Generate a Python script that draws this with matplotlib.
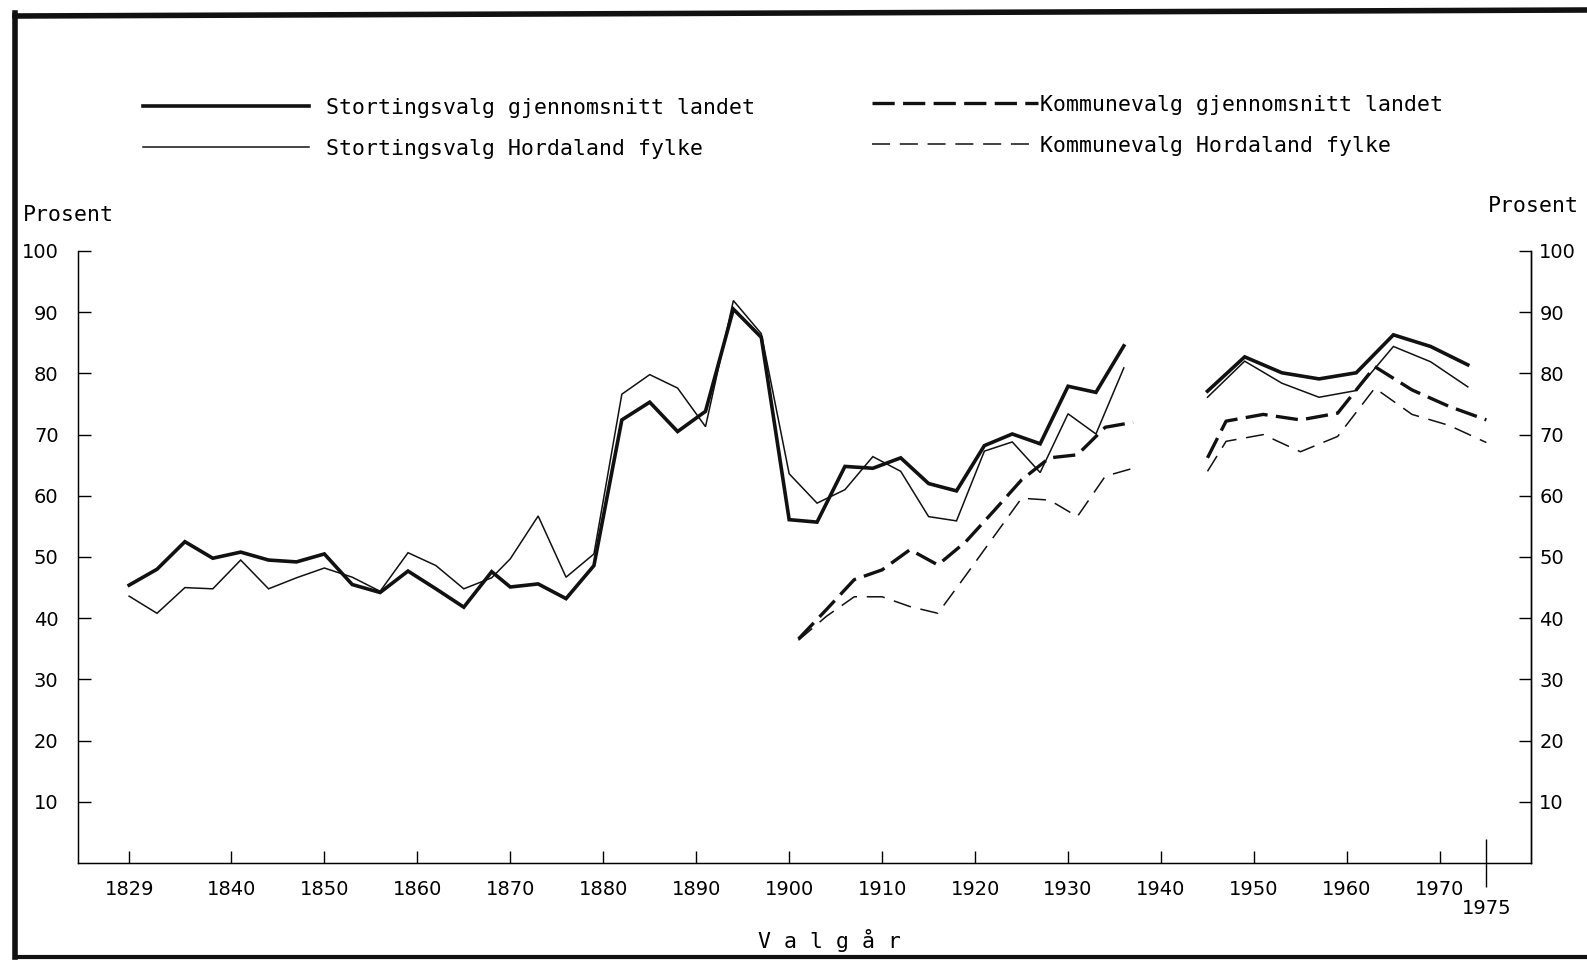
import matplotlib
matplotlib.use('Agg')
import matplotlib.pyplot as plt
from matplotlib import font_manager
from matplotlib.lines import Line2D
import numpy as np

# Stortingsvalg (every 3rd year, break 1936 -> 1945)
storting_years = [1829, 1832, 1835, 1838, 1841, 1844, 1847, 1850, 1853, 1856,
                  1859, 1862, 1865, 1868, 1870, 1873, 1876, 1879, 1882, 1885,
                  1888, 1891, 1894, 1897, 1900, 1903, 1906, 1909, 1912, 1915,
                  1918, 1921, 1924, 1927, 1930, 1933, 1936,
                  1945, 1949, 1953, 1957, 1961, 1965, 1969, 1973]
storting_landet = [45.4, 48.0, 52.5, 49.8, 50.8, 49.5, 49.2, 50.5, 45.5, 44.2,
                   47.7, 44.8, 41.8, 47.6, 45.1, 45.6, 43.2, 48.6, 72.4, 75.3,
                   70.5, 73.8, 90.5, 85.9, 56.1, 55.7, 64.8, 64.5, 66.2, 62.0,
                   60.8, 68.2, 70.1, 68.5, 77.9, 76.9, 84.5,
                   77.1, 82.7, 80.1, 79.1, 80.1, 86.3, 84.4, 81.4]
storting_hordaland = [43.6, 40.8, 45.0, 44.8, 49.5, 44.8, 46.6, 48.2, 46.7, 44.4,
                      50.7, 48.6, 44.8, 46.6, 49.7, 56.7, 46.7, 50.5, 76.6, 79.8,
                      77.6, 71.3, 91.9, 86.5, 63.6, 58.8, 61.0, 66.4, 64.0, 56.6,
                      55.9, 67.3, 68.8, 63.8, 73.4, 70.1, 80.9,
                      76.1, 82.0, 78.4, 76.1, 77.2, 84.4, 81.9, 77.8]

# Kommunevalg
kommune_years = [1901, 1904, 1907, 1910, 1913, 1916, 1919, 1922, 1925, 1928,
                 1931, 1934, 1937,
                 1945, 1947, 1951, 1955, 1959, 1963, 1967, 1971, 1975]
kommune_landet = [36.6, 41.4, 46.3, 47.9, 51.2, 48.7, 52.5, 57.5, 62.6, 66.2,
                  66.7, 71.2, 72.0,
                  66.2, 72.2, 73.3, 72.4, 73.5, 81.1, 77.3, 74.6, 72.4]
kommune_hordaland = [36.4, 40.3, 43.5, 43.5, 41.9, 40.8, 47.0, 53.3, 59.6, 59.3,
                     56.6, 63.2, 64.5,
                     64.0, 68.9, 70.0, 67.2, 69.7, 77.6, 73.3, 71.5, 68.7]

labels = ['Stortingsvalg gjennomsnitt landet', 'Stortingsvalg Hordaland fylke',
          'Kommunevalg gjennomsnitt landet', 'Kommunevalg Hordaland fylke']
x_ticks = [1829, 1840, 1850, 1860, 1870, 1880, 1890, 1900, 1910, 1920,
           1930, 1940, 1950, 1960, 1970]
y_ticks = [10, 20, 30, 40, 50, 60, 70, 80, 90, 100]

names = {f.name for f in font_manager.fontManager.ttflist}
if 'Liberation Sans Narrow' in names:
    xfont, xsize = 'Liberation Sans Narrow', 18
else:
    xfont, xsize = 'DejaVu Sans', 14
mono = 'DejaVu Sans Mono'
plt.rcParams['lines.scale_dashes'] = False

W, H = 1587, 960
fig = plt.figure(figsize=(W / 100, H / 100), dpi=100)
ax = fig.add_axes([78 / W, 1 - 863 / H, (1531 - 78) / W, (863 - 251) / H])


def segments(years, values):
    years = np.asarray(years)
    values = np.asarray(values)
    breaks = np.where(np.diff(years) > 5)[0] + 1
    return zip(np.split(years, breaks), np.split(values, breaks))


styles = [dict(lw=2.6, color='#111111'),
          dict(lw=1.1, color='#111111'),
          dict(lw=2.4, color='#111111', dashes=(16, 6)),
          dict(lw=1.1, color='#111111', dashes=(13, 7))]
series = [(storting_years, storting_landet), (storting_years, storting_hordaland),
          (kommune_years, kommune_landet), (kommune_years, kommune_hordaland)]
handles = []
for (yrs, vals), st in zip(series, styles):
    first = None
    for sx, sy in segments(yrs, vals):
        ln, = ax.plot(sx, sy, solid_joinstyle='miter', **st)
        first = first or ln
    handles.append(first)

ax.set_xlim(1823.5, 1979.8)
ax.set_ylim(0, 100)
ax.spines['top'].set_visible(False)
for s in ('left', 'right', 'bottom'):
    ax.spines[s].set_linewidth(1.0)

ax.set_xticks(x_ticks, [str(t) for t in x_ticks])
ax.set_xticks([1975], ['1975'], minor=True)
ax.tick_params(axis='x', which='major', direction='in', length=9, width=1,
               pad=12, labelsize=xsize)
ax.tick_params(axis='x', which='minor', direction='inout', length=34, width=1,
               pad=9, labelsize=xsize)
for lab in ax.get_xticklabels(which='both'):
    lab.set_family(xfont)

ax.set_yticks(y_ticks, [str(t) for t in y_ticks])
ax.tick_params(axis='y', direction='in', length=9, width=1, pad=14, labelsize=14)

ax2 = ax.twinx()
ax2.set_ylim(0, 100)
ax2.set_yticks(y_ticks, [str(t) for t in y_ticks])
ax2.tick_params(axis='y', direction='in', length=9, width=1, pad=6, labelsize=14)
ax2.spines['top'].set_visible(False)
ax2.spines['right'].set_linewidth(1.0)

fig.text(23 / W, 1 - 215 / H, 'Prosent', family=mono, fontsize=15.5,
         ha='left', va='center')
fig.text(1579 / W, 1 - 206 / H, 'Prosent', family=mono, fontsize=15.5,
         ha='right', va='center')
fig.text(830 / W, 1 - 941 / H, 'V a l g å r', family=mono, fontsize=15.5,
         ha='center', va='center')

leg_kw = dict(loc='upper left', frameon=False, borderpad=0, borderaxespad=0,
              handlelength=7.7, labelspacing=0.97, prop={'family': mono, 'size': 15.5})
fig.legend(handles[:2], labels[:2], bbox_to_anchor=(143 / W, 1 - 98 / H),
           handletextpad=0.8, **leg_kw)
fig.legend(handles[2:], labels[2:], bbox_to_anchor=(872 / W, 1 - 95 / H),
           handletextpad=0.1, **leg_kw)

# scanned page frame
frame = dict(transform=fig.transFigure, color='#111111', lw=4)
fig.add_artist(Line2D([15 / W, 15 / W], [1 - 13 / H, 1 - 957 / H], **frame))
fig.add_artist(Line2D([15 / W, 1.0], [1 - 16 / H, 1 - 10 / H], **frame))
fig.add_artist(Line2D([15 / W, 1.0], [1 - 957 / H, 1 - 957 / H], lw=3,
                      transform=fig.transFigure, color='#111111'))

fig.savefig('out.png', dpi=100)
plt.close(fig)
